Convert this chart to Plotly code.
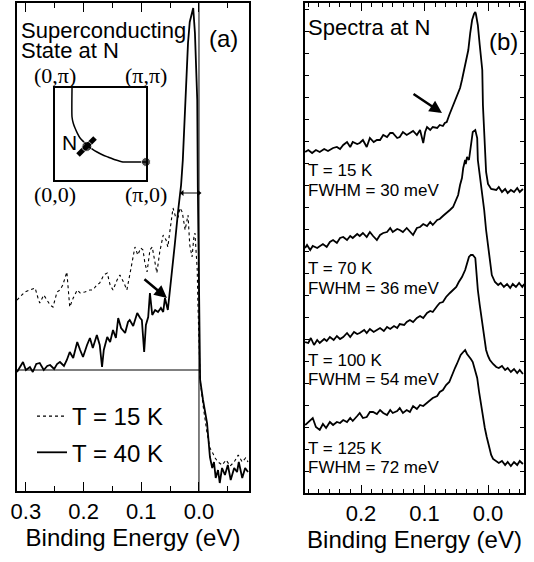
import plotly.graph_objects as go

# ---------------- Panel (a): binding energy (eV) vs intensity (arb. units)
E_A_40K = [0.3154, 0.310, 0.305, 0.300, 0.293, 0.288, 0.282, 0.276, 0.269, 0.263, 0.258, 0.251, 0.246,
           0.241, 0.234, 0.229, 0.224, 0.218, 0.211, 0.206, 0.201, 0.194, 0.189, 0.184, 0.177, 0.172,
           0.168, 0.165, 0.159, 0.154, 0.149, 0.144, 0.140, 0.135, 0.128, 0.123, 0.120, 0.114, 0.107,
           0.102, 0.099, 0.095, 0.092, 0.088, 0.085, 0.081, 0.076, 0.071, 0.066, 0.062, 0.059, 0.054,
           0.050, 0.047, 0.042, 0.036, 0.031, 0.028, 0.024, 0.019, 0.016, 0.012, 0.010, 0.007, 0.003,
           0.002, 0.0, -0.002, -0.007, -0.014, -0.019, -0.023, -0.026, -0.029, -0.033, -0.036, -0.040,
           -0.045, -0.050, -0.055, -0.061, -0.066, -0.069, -0.075, -0.080, -0.085]
I_A_40K = [119, 125, 129, 121, 124, 119, 127, 128, 121, 125, 126, 122, 127,
           129, 125, 131, 139, 133, 149, 141, 134, 146, 153, 143, 156, 146,
           124, 141, 154, 149, 161, 153, 173, 163, 158, 169, 171, 165, 178,
           173, 171, 139, 166, 174, 198, 176, 181, 179, 183, 179, 193, 181,
           201, 216, 246, 281, 306, 331, 391, 448, 469, 479, 483, 458, 391,
           304, 211, 111, 91, 68, 34, 23, 29, 13, 21, 8, 23,
           16, 26, 11, 23, 19, 29, 13, 23, 19]

E_A_15K = [0.3154, 0.310, 0.302, 0.293, 0.284, 0.279, 0.276, 0.269, 0.263, 0.258, 0.253, 0.246, 0.241,
           0.236, 0.229, 0.224, 0.218, 0.211, 0.206, 0.198, 0.189, 0.184, 0.177, 0.172, 0.165, 0.159,
           0.154, 0.149, 0.142, 0.137, 0.130, 0.125, 0.120, 0.114, 0.111, 0.106, 0.101, 0.097, 0.094,
           0.090, 0.085, 0.081, 0.076, 0.073, 0.068, 0.062, 0.057, 0.054, 0.049, 0.045, 0.040, 0.036,
           0.033, 0.029, 0.024, 0.021, 0.019, 0.016, 0.012, 0.009, 0.007, 0.003, 0.002, -0.002, -0.007,
           -0.014, -0.019, -0.023, -0.028, -0.033, -0.040, -0.047, -0.054, -0.061, -0.068, -0.075,
           -0.081, -0.085]
I_A_15K = [191, 194, 199, 201, 203, 193, 188, 196, 191, 186, 184, 199, 201,
           206, 219, 184, 193, 201, 198, 199, 201, 201, 206, 208, 216, 218,
           206, 201, 211, 216, 208, 201, 216, 233, 244, 236, 243, 241, 229,
           219, 241, 244, 229, 218, 239, 256, 251, 244, 266, 283, 273, 274,
           283, 279, 261, 273, 276, 246, 234, 253, 258, 221, 191, 111, 86,
           58, 43, 39, 33, 29, 26, 31, 25, 29, 36, 29,
           33, 29]

BASELINE_A = 121          # horizontal reference level drawn under the 40 K spectrum
E_FERMI = 0.0             # Fermi level
GAP_EDGE_A = 0.029        # leading-edge position marked by the small double arrow
GAP_LEVEL_A = 298
ARROW_A = (0.0555, 193)   # dip/hump arrow tip (energy, intensity)

# ---------------- Panel (b): temperature series
E_B1 = [0.288, 0.283, 0.277, 0.271, 0.265, 0.258, 0.252, 0.244, 0.238, 0.233, 0.228, 0.222, 0.217, 0.213,
        0.206, 0.202, 0.197, 0.191, 0.186, 0.180, 0.175, 0.170, 0.165, 0.159, 0.154, 0.150, 0.143, 0.139,
        0.134, 0.128, 0.123, 0.118, 0.112, 0.107, 0.102, 0.099, 0.096, 0.091, 0.087, 0.080, 0.076, 0.071,
        0.068, 0.065, 0.061, 0.058, 0.055, 0.052, 0.049, 0.044, 0.041, 0.038, 0.035, 0.031, 0.028, 0.025,
        0.022, 0.020, 0.019, 0.016, 0.013, 0.009, 0.008, 0.006, 0.005, 0.003, 0.000, -0.005, -0.013,
        -0.017, -0.022, -0.027, -0.031, -0.036, -0.041, -0.046, -0.050, -0.055]
I_B1 = [341, 343, 340, 343, 341, 344, 342, 345, 346, 344, 348, 351, 346, 351,
        349, 350, 353, 346, 355, 351, 353, 353, 358, 356, 360, 360, 355, 356,
        361, 358, 360, 362, 358, 363, 350, 361, 366, 363, 366, 365, 368, 367,
        370, 371, 378, 383, 388, 393, 397, 405, 413, 423, 431, 443, 460, 473,
        479, 481, 479, 468, 448, 423, 388, 363, 338, 321, 309, 304, 303,
        306, 301, 304, 300, 303, 301, 305, 301, 304]

E_B2 = [0.288, 0.285, 0.280, 0.276, 0.269, 0.265, 0.260, 0.254, 0.249, 0.244, 0.238, 0.233, 0.228, 0.222,
        0.217, 0.213, 0.206, 0.202, 0.197, 0.191, 0.186, 0.181, 0.175, 0.170, 0.165, 0.159, 0.154, 0.150,
        0.143, 0.139, 0.134, 0.128, 0.123, 0.118, 0.112, 0.107, 0.102, 0.096, 0.091, 0.087, 0.080, 0.076,
        0.071, 0.065, 0.060, 0.055, 0.050, 0.047, 0.044, 0.041, 0.039, 0.036, 0.035, 0.033, 0.030, 0.028,
        0.025, 0.024, 0.020, 0.019, 0.017, 0.016, 0.013, 0.009, 0.006, 0.003, 0.000, -0.003, -0.006,
        -0.011, -0.016, -0.020, -0.025, -0.030, -0.035, -0.039, -0.044, -0.049, -0.054, -0.057]
I_B2 = [245, 248, 243, 247, 245, 247, 249, 246, 251, 253, 250, 255, 256, 253,
        257, 255, 259, 257, 260, 256, 261, 257, 253, 258, 260, 261, 265, 261,
        264, 263, 261, 265, 261, 258, 265, 266, 269, 267, 271, 268, 273, 274,
        277, 280, 283, 286, 293, 298, 308, 315, 325, 333, 329, 336, 333, 343,
        353, 361, 363, 360, 355, 333, 318, 303, 283, 263, 246, 230, 218,
        211, 208, 210, 206, 209, 205, 209, 206, 210, 206, 209]

E_B3 = [0.288, 0.283, 0.279, 0.274, 0.269, 0.265, 0.258, 0.254, 0.249, 0.243, 0.238, 0.233, 0.228, 0.222,
        0.217, 0.211, 0.206, 0.202, 0.195, 0.191, 0.186, 0.180, 0.175, 0.170, 0.164, 0.159, 0.154, 0.148,
        0.143, 0.139, 0.132, 0.128, 0.123, 0.118, 0.112, 0.107, 0.102, 0.096, 0.091, 0.087, 0.080, 0.076,
        0.071, 0.066, 0.060, 0.055, 0.050, 0.046, 0.041, 0.036, 0.033, 0.030, 0.027, 0.024, 0.020, 0.019,
        0.016, 0.013, 0.009, 0.006, 0.003, 0.000, -0.003, -0.008, -0.013, -0.017, -0.022, -0.027, -0.031,
        -0.036, -0.041, -0.046, -0.050, -0.055]
I_B3 = [151, 150, 155, 148, 153, 150, 154, 152, 156, 153, 157, 154, 156, 160,
        156, 161, 159, 160, 163, 160, 164, 161, 163, 165, 162, 166, 164, 167,
        165, 169, 168, 171, 173, 171, 175, 177, 175, 180, 182, 181, 187, 190,
        191, 196, 200, 203, 206, 211, 216, 223, 231, 236, 238, 238, 235, 226,
        203, 188, 170, 155, 143, 137, 133, 129, 126, 125, 127, 123, 125,
        121, 124, 120, 123, 119]

E_B4 = [0.288, 0.285, 0.280, 0.276, 0.271, 0.265, 0.260, 0.255, 0.249, 0.244, 0.238, 0.233, 0.228, 0.222,
        0.217, 0.213, 0.206, 0.202, 0.197, 0.191, 0.186, 0.181, 0.175, 0.170, 0.165, 0.159, 0.154, 0.150,
        0.143, 0.139, 0.134, 0.128, 0.123, 0.118, 0.112, 0.107, 0.102, 0.096, 0.091, 0.087, 0.080, 0.076,
        0.071, 0.066, 0.061, 0.057, 0.052, 0.049, 0.046, 0.043, 0.039, 0.036, 0.033, 0.030, 0.027, 0.024,
        0.020, 0.017, 0.014, 0.011, 0.008, 0.005, 0.002, -0.002, -0.005, -0.008, -0.013, -0.017, -0.022,
        -0.027, -0.031, -0.036, -0.041, -0.046, -0.050, -0.055]
I_B4 = [68, 70, 73, 75, 66, 63, 69, 65, 71, 68, 71, 70, 73, 71,
        75, 72, 77, 80, 75, 76, 81, 81, 79, 83, 80, 78, 83, 80,
        82, 85, 80, 83, 81, 87, 84, 88, 87, 90, 93, 95, 97, 101,
        103, 108, 111, 118, 125, 129, 133, 138, 141, 143, 139, 137, 134, 131,
        123, 115, 101, 88, 76, 65, 56, 46, 38, 34, 32, 30, 32,
        28, 31, 27, 31, 28, 32, 29]

LABELS_B = [("T = 15 K", "FWHM = 30 meV"), ("T = 70 K", "FWHM = 36 meV"),
            ("T = 100 K", "FWHM = 54 meV"), ("T = 125 K", "FWHM = 72 meV")]
ARROW_B = (0.0724, 380)

# ---------------- Inset: Brillouin-zone quadrant (units of pi)
FS_KX = [0.187, 0.187, 0.20, 0.22, 0.245, 0.275, 0.32, 0.363, 0.41, 0.462, 0.52, 0.582, 0.66, 0.747, 0.85, 1.0]
FS_KY = [1.00, 0.685, 0.62, 0.565, 0.51, 0.457, 0.41, 0.37, 0.335, 0.304, 0.275, 0.25, 0.22, 0.196, 0.196, 0.196]
N_CUT_KX = [0.253, 0.44]
N_CUT_KY = [0.272, 0.457]
N_POINT = (0.35, 0.365)
ANTINODE = (1.0, 0.196)

W, H = 534, 562
FONT = "Liberation Sans, Arial, sans-serif"
SERIF = "Liberation Serif, Times New Roman, serif"

fig = go.Figure()

# Panel (a)
fig.add_trace(go.Scatter(x=E_A_15K, y=I_A_15K, mode="lines", name="T = 15 K",
                         line=dict(color="black", width=1.1, dash="dot"),
                         legendgroup="g1", xaxis="x", yaxis="y"))
fig.add_trace(go.Scatter(x=E_A_40K, y=I_A_40K, mode="lines", name="T = 40 K",
                         line=dict(color="black", width=1.8),
                         legendgroup="g2", xaxis="x", yaxis="y"))
fig.add_trace(go.Scatter(x=[max(E_A_40K), E_FERMI], y=[BASELINE_A, BASELINE_A], mode="lines",
                         line=dict(color="black", width=1), showlegend=False, xaxis="x", yaxis="y"))
fig.add_trace(go.Scatter(x=[GAP_EDGE_A, E_FERMI], y=[GAP_LEVEL_A, GAP_LEVEL_A], mode="lines+markers",
                         line=dict(color="black", width=1),
                         marker=dict(symbol=["triangle-left", "triangle-right"], size=5, color="black"),
                         showlegend=False, xaxis="x", yaxis="y"))

# Panel (b)
for E, I in [(E_B1, I_B1), (E_B2, I_B2), (E_B3, I_B3), (E_B4, I_B4)]:
    fig.add_trace(go.Scatter(x=E, y=I, mode="lines", line=dict(color="black", width=1.8),
                             showlegend=False, xaxis="x2", yaxis="y2"))

# Inset
fig.add_trace(go.Scatter(x=FS_KX, y=FS_KY, mode="lines", line=dict(color="black", width=1.5, shape="spline",
                                                                    smoothing=0.6),
                         showlegend=False, xaxis="x3", yaxis="y3", cliponaxis=False))
fig.add_trace(go.Scatter(x=N_CUT_KX, y=N_CUT_KY, mode="lines", line=dict(color="black", width=5),
                         showlegend=False, xaxis="x3", yaxis="y3", cliponaxis=False))
fig.add_trace(go.Scatter(x=[N_POINT[0], ANTINODE[0]], y=[N_POINT[1], ANTINODE[1]], mode="markers",
                         marker=dict(color="black", size=[10, 9]),
                         showlegend=False, xaxis="x3", yaxis="y3", cliponaxis=False))

xa_dom = [17 / W, 249 / W]
xb_dom = [305 / W, 524 / W]
ya_dom = [71 / H, 559 / H]
yb_dom = [69 / H, 559 / H]

common_x = dict(showline=True, linecolor="black", linewidth=1.5, mirror="ticks", ticks="inside",
                tickcolor="black", showgrid=False, zeroline=False, tickformat=".1f",
                tickfont=dict(family=FONT, size=22, color="black"),
                title=dict(text="Binding Energy (eV)", font=dict(family=FONT, size=24, color="black"),
                           standoff=6),
                automargin=False)
common_y = dict(showline=True, linecolor="black", linewidth=1.5, showgrid=False,
                zeroline=False, showticklabels=False, automargin=False)

fig.update_layout(
    width=W, height=H, margin=dict(l=0, r=0, t=0, b=0),
    paper_bgcolor="white", plot_bgcolor="white",
    xaxis=dict(**common_x, domain=xa_dom, range=[0.3154, -0.0867], dtick=0.1, tick0=0, ticklen=9,
               tickwidth=1.2, anchor="y",
               minor=dict(dtick=0.05, ticklen=5, ticks="inside", tickcolor="black")),
    yaxis=dict(**common_y, domain=ya_dom, range=[0, 488], ticks="", ticklen=0, tickvals=[],
               mirror=True, anchor="x"),
    xaxis2=dict(**common_x, domain=xb_dom, range=[0.2882, -0.0567], dtick=0.1, tick0=0, ticklen=8,
                tickwidth=1.2, anchor="y2",
                minor=dict(dtick=0.1 / 6, ticklen=4, ticks="inside", tickcolor="black")),
    yaxis2=dict(**common_y, domain=yb_dom, range=[0, 490], ticks="inside", ticklen=4, dtick=22,
                tickcolor="black", mirror="ticks", anchor="x2"),
    xaxis3=dict(domain=[55 / W, 146 / W], range=[0, 1], showline=True, linecolor="black", linewidth=1.5,
                mirror=True, showticklabels=False, ticks="", tickvals=[], showgrid=False, zeroline=False,
                anchor="y3", automargin=False),
    yaxis3=dict(domain=[382 / H, 474 / H], range=[0, 1], showline=True, linecolor="black", linewidth=1.5,
                mirror=True, showticklabels=False, ticks="", tickvals=[], showgrid=False, zeroline=False,
                anchor="x3", automargin=False),
    showlegend=True,
    legend=dict(x=32 / W, y=1 - 394 / H, xanchor="left", yanchor="top", bgcolor="rgba(0,0,0,0)",
                font=dict(family=FONT, size=24, color="black"), traceorder="grouped",
                tracegroupgap=2, itemwidth=30),
    shapes=[dict(type="line", xref="x", yref="y domain", x0=E_FERMI, x1=E_FERMI, y0=0, y1=1,
                 line=dict(color="black", width=1))],
)

ann = []
def txt(text, x, y, size, xanchor="left", family=FONT, **kw):
    ann.append(dict(text=text, x=x / W, y=1 - y / H, xref="paper", yref="paper", showarrow=False,
                    xanchor=xanchor, yanchor="middle", font=dict(family=family, size=size, color="black"),
                    **kw))

txt("Superconducting", 19, 30, 22)
txt("State at N", 19, 51, 22)
txt("(a)", 223, 38, 24, xanchor="center")
txt("Spectra at N", 306, 27, 22)
txt("(b)", 503, 42, 24, xanchor="center")

label_y = [(170, 190), (268, 288), (360, 379), (448, 467)]
for (t1, t2), (y1, y2) in zip(LABELS_B, label_y):
    txt(t1, 306, y1, 17)
    txt(t2, 306, y2, 17)

# inset labels
for text, kx, ky, ya, ys in [("(0,π)", 0, 1, "bottom", -2), ("(π,π)", 1, 1, "bottom", -2),
                             ("(0,0)", 0, 0, "top", 0), ("(π,0)", 1, 0, "top", 0)]:
    ann.append(dict(text=text, x=kx, y=ky, xref="x3", yref="y3", showarrow=False, xanchor="center",
                    yanchor=ya, yshift=ys, font=dict(family=SERIF, size=22, color="black")))
ann.append(dict(text="N", x=N_POINT[0], y=N_POINT[1], xref="x3", yref="y3", showarrow=False,
                xanchor="right", yanchor="middle", xshift=-8, yshift=4,
                font=dict(family=FONT, size=21, color="black")))

# arrows
ann.append(dict(text="", x=ARROW_A[0], y=ARROW_A[1], xref="x", yref="y", showarrow=True,
                ax=-24, ay=-20, arrowhead=2, arrowsize=1, arrowwidth=2.5, arrowcolor="black"))
ann.append(dict(text="", x=ARROW_B[0], y=ARROW_B[1], xref="x2", yref="y2", showarrow=True,
                ax=-30, ay=-20, arrowhead=2, arrowsize=1, arrowwidth=2.5, arrowcolor="black"))

fig.update_layout(annotations=ann)
fig.write_html("out.html")
